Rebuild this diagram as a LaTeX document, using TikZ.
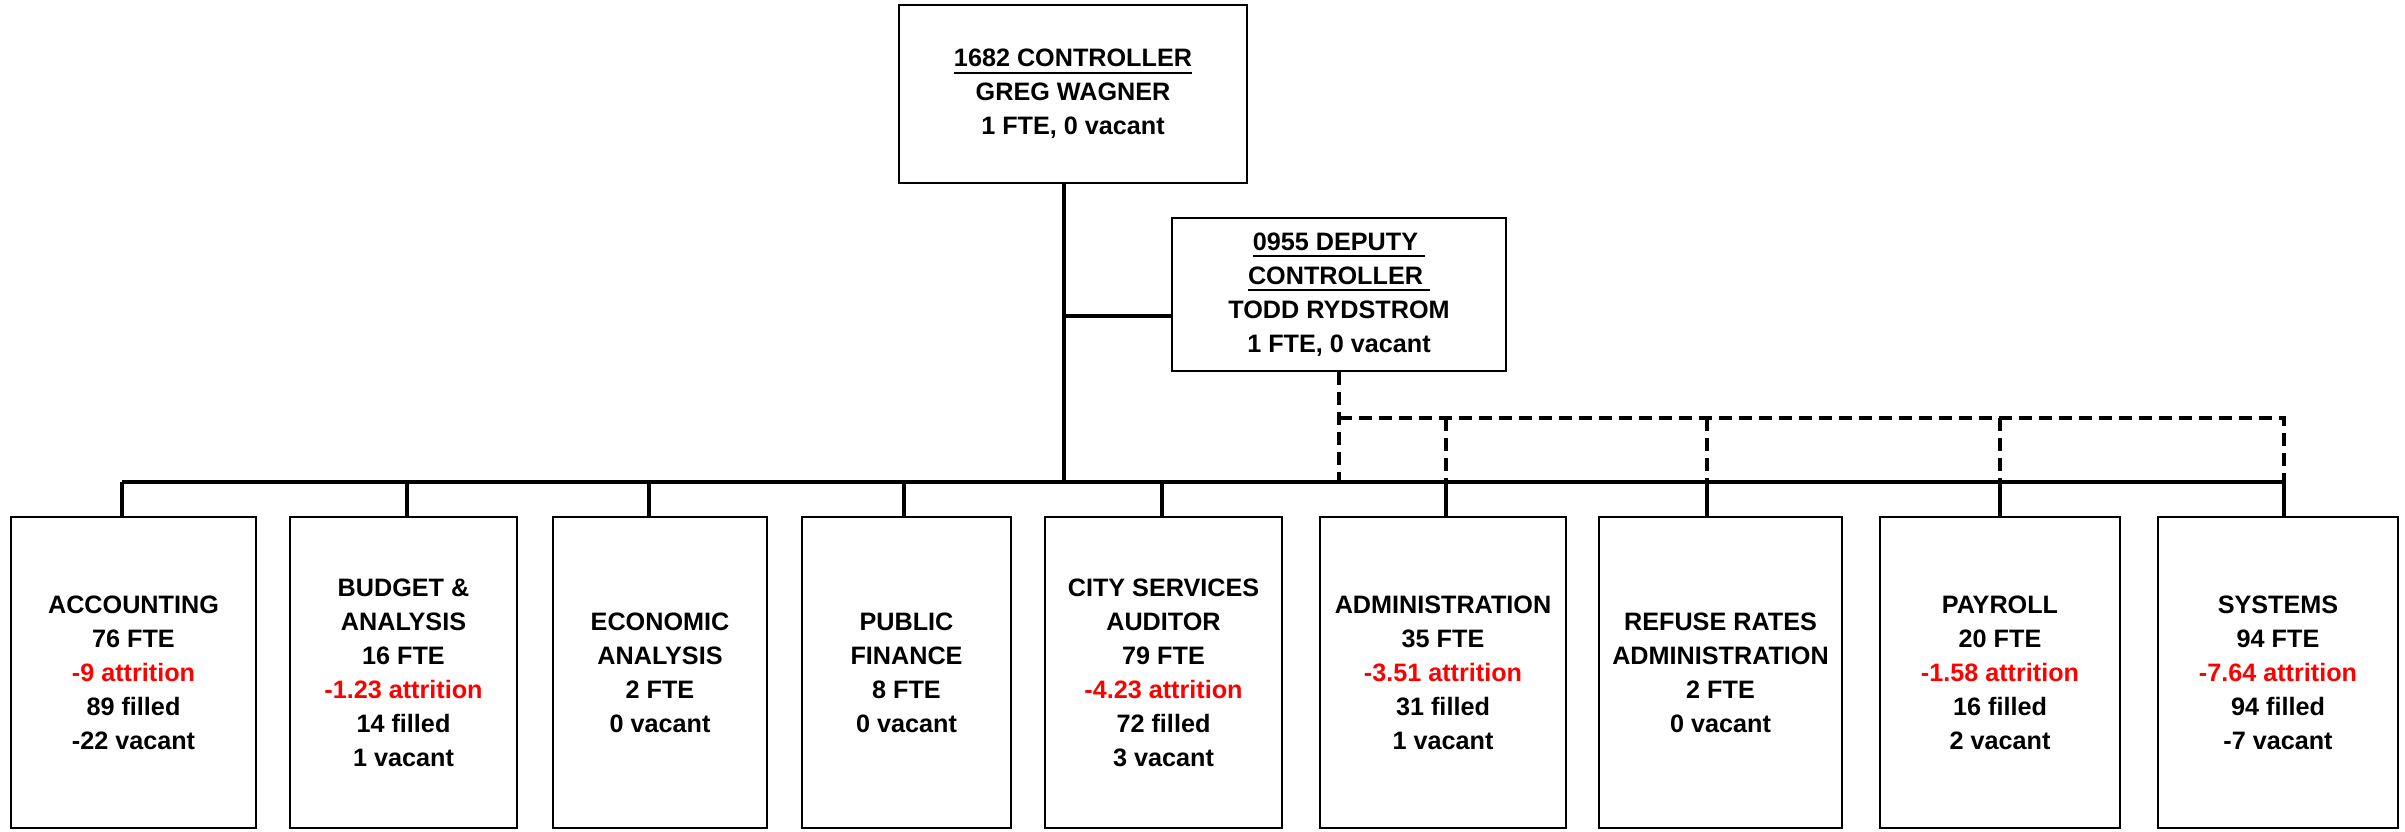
\documentclass[tikz,border=0pt]{standalone}
\usepackage{fontspec}
\setmainfont{Liberation Sans}
\usepackage{tikz}
\usetikzlibrary{calc}
\tikzstyle{office}=[rectangle, draw, line width=2.5pt, inner sep=0pt, align=center,
    font=\fontsize{25.2}{34}\selectfont\bfseries]
\tikzstyle{dept}=[office, minimum height=311]
\newcommand{\office}{\node[office]}
\newcommand{\dept}{\node[dept]}
\newcommand{\attr}[1]{\textcolor{red}{#1 attrition}}
\newsavebox{\ulbox}
\newcommand{\undl}[1]{\sbox\ulbox{#1}\rlap{\rule[-7pt]{\wd\ulbox}{2.2pt}}\usebox\ulbox}

\begin{document}
\begin{tikzpicture}[x=1pt, y=-1pt
    ,link/.style={draw, line width=3.3pt}
    ,dotline/.style={draw, line width=3.3pt, dash pattern=on 13pt off 7pt}
]
\useasboundingbox (0,0) rectangle (2405,831);
\office[minimum width=348, minimum height=178] (ctrl) at (1073,94)
    {\undl{1682 CONTROLLER}\\GREG WAGNER\\1 FTE, 0 vacant};
\office[minimum width=334, minimum height=153] (dep) at (1339,294.5)
    {\undl{0955 DEPUTY\ }\\\undl{CONTROLLER\ }\\TODD RYDSTROM\\1 FTE, 0 vacant};
\dept[minimum width=245] (acc) at (133.5,672.5) {ACCOUNTING\\76 FTE\\\attr{-9}\\89 filled\\-22 vacant};
\dept[minimum width=227] (bud) at (403.5,672.5) {BUDGET \&\\ANALYSIS\\16 FTE\\\attr{-1.23}\\14 filled\\1 vacant};
\dept[minimum width=214] (eco) at (660,672.5) {ECONOMIC\\ANALYSIS\\2 FTE\\0 vacant};
\dept[minimum width=209] (pub) at (906.5,672.5) {PUBLIC\\FINANCE\\8 FTE\\0 vacant};
\dept[minimum width=237] (city) at (1163.5,672.5) {CITY SERVICES\\AUDITOR\\79 FTE\\\attr{-4.23}\\72 filled\\3 vacant};
\dept[minimum width=246] (adm) at (1443,672.5) {ADMINISTRATION\\35 FTE\\\attr{-3.51}\\31 filled\\1 vacant};
\dept[minimum width=243] (ref) at (1720.5,672.5) {REFUSE RATES\\ADMINISTRATION\\2 FTE\\0 vacant};
\dept[minimum width=240] (pay) at (2000,672.5) {PAYROLL\\20 FTE\\\attr{-1.58}\\16 filled\\2 vacant};
\dept[minimum width=240] (sys) at (2278,672.5) {SYSTEMS\\94 FTE\\\attr{-7.64}\\94 filled\\-7 vacant};
% points on the bus
\coordinate (j) at (1064,316);
\coordinate (knee) at (1339,418);
\coordinate (tacc) at (122,482);
\coordinate (tbud) at (407,482);
\coordinate (teco) at (649,482);
\coordinate (tpub) at (904,482);
\coordinate (tcity) at (1162,482);
\coordinate (tadm) at (1446,482);
\coordinate (tref) at (1707,482);
\coordinate (tpay) at (2000,482);
\coordinate (tsys) at (2284,482);
% dotted line of the deputy
\draw[dotline] (dep.south) -- (dep.south |- tacc);
\draw[dotline] (knee) -- (tsys |- knee) -- (tsys);
\draw[dotline] (tadm |- knee) -- (tadm);
\draw[dotline] (tref |- knee) -- (tref);
\draw[dotline] (tpay |- knee) -- (tpay);
% solid lines
\draw[link] (ctrl.south -| j) -- (j |- tacc);
\draw[link] (j) -- (j -| dep.west);
\draw[link] (tacc) -- (tsys);
\path[link]
(tacc) -- (tacc |- acc.north)
(tbud) -- (tbud |- bud.north)
(teco) -- (teco |- eco.north)
(tpub) -- (tpub |- pub.north)
(tcity) -- (tcity |- city.north)
(tadm) -- (tadm |- adm.north)
(tref) -- (tref |- ref.north)
(tpay) -- (tpay |- pay.north)
(tsys) -- (tsys |- sys.north)
;
\end{tikzpicture}
\end{document}
